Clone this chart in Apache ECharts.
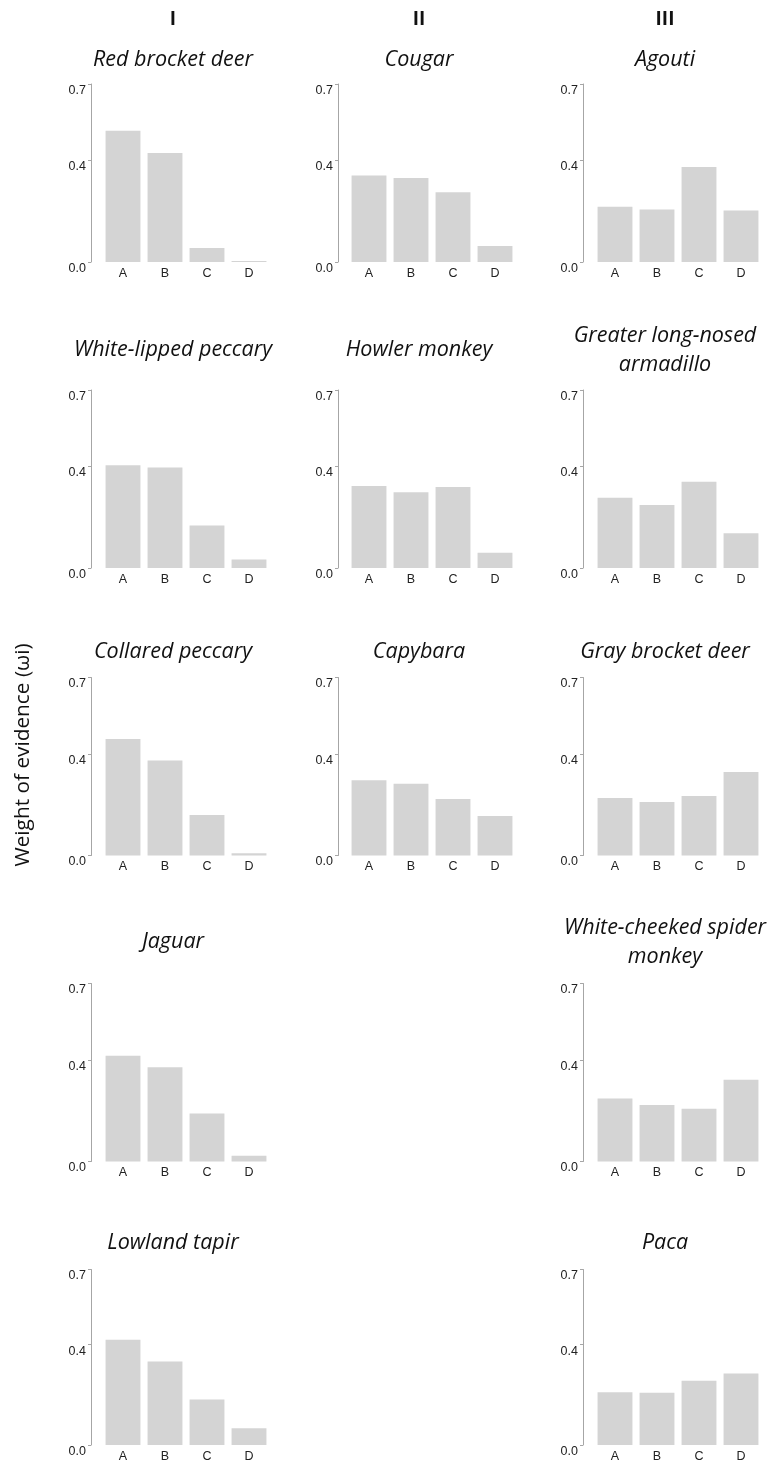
<!DOCTYPE html>
<html><head><meta charset="utf-8">
<script src="https://cdn.jsdelivr.net/npm/echarts@6/dist/echarts.min.js"></script>
<style>html,body{margin:0;padding:0;background:#fff}#c{width:773px;height:1463px}</style>
</head><body><div id="c"></div>
<script>
const categories = ['A', 'B', 'C', 'D'];
const yTicks = [0, 0.4, 0.7];
const columnHeaders = ['I', 'II', 'III'];
const yAxisTitle = 'Weight of evidence (ωi)';

const redBrocketDeer = [0.516, 0.429, 0.055, 0.004];
const cougar = [0.340, 0.330, 0.274, 0.063];
const agouti = [0.217, 0.206, 0.374, 0.203];
const whiteLippedPeccary = [0.404, 0.395, 0.167, 0.033];
const howlerMonkey = [0.322, 0.298, 0.319, 0.060];
const armadillo = [0.276, 0.248, 0.339, 0.137];
const collaredPeccary = [0.458, 0.374, 0.159, 0.009];
const capybara = [0.296, 0.282, 0.222, 0.155];
const grayBrocketDeer = [0.226, 0.210, 0.234, 0.328];
const jaguar = [0.416, 0.371, 0.189, 0.023];
const spiderMonkey = [0.248, 0.222, 0.207, 0.321];
const lowlandTapir = [0.420, 0.333, 0.181, 0.067];
const paca = [0.210, 0.208, 0.256, 0.285];

const panels = [
  { name: 'Red brocket deer', values: redBrocketDeer, col: 0, row: 0 },
  { name: 'Cougar', values: cougar, col: 1, row: 0 },
  { name: 'Agouti', values: agouti, col: 2, row: 0 },
  { name: 'White-lipped peccary', values: whiteLippedPeccary, col: 0, row: 1 },
  { name: 'Howler monkey', values: howlerMonkey, col: 1, row: 1 },
  { name: 'Greater long-nosed\narmadillo', values: armadillo, col: 2, row: 1 },
  { name: 'Collared peccary', values: collaredPeccary, col: 0, row: 2 },
  { name: 'Capybara', values: capybara, col: 1, row: 2 },
  { name: 'Gray brocket deer', values: grayBrocketDeer, col: 2, row: 2 },
  { name: 'Jaguar', values: jaguar, col: 0, row: 3 },
  { name: 'White-cheeked spider\nmonkey', values: spiderMonkey, col: 2, row: 3 },
  { name: 'Lowland tapir', values: lowlandTapir, col: 0, row: 4 },
  { name: 'Paca', values: paca, col: 2, row: 4 }
];

// layout (pixels)
const colAxisX = [91, 338, 583];
const colGridLeft = [102, 348, 594];
const gridWidth = 168;
const rowTop = [84, 390, 677.5, 983.5, 1269.5];
const gridHeight = 178;
const titleX = [173, 419, 665];
const titleY = [60, 350, 652, 942, 1243];
const headerY = 20;

const grid = [], xAxis = [], yAxis = [], series = [], graphic = [];
const axisColor = '#a6a6a6';

panels.forEach((p, i) => {
  grid.push({ left: colGridLeft[p.col], top: rowTop[p.row], width: gridWidth, height: gridHeight });
  xAxis.push({
    gridIndex: i, type: 'category', data: categories,
    axisLine: { show: false }, axisTick: { show: false },
    axisLabel: { color: '#222', fontSize: 12.5, margin: 5, fontFamily: 'Liberation Sans' }
  });
  yAxis.push({
    gridIndex: i, type: 'value', min: 0, max: 0.7,
    offset: colGridLeft[p.col] - colAxisX[p.col],
    splitLine: { show: false },
    axisLine: { show: true, lineStyle: { color: axisColor, width: 1 } },
    axisTick: { show: true, length: 3, customValues: yTicks, lineStyle: { color: axisColor } },
    axisLabel: {
      customValues: yTicks, formatter: v => v.toFixed(1), margin: 5,
      verticalAlign: 'top', color: '#222', fontSize: 12.5, fontFamily: 'Liberation Sans'
    }
  });
  series.push({
    type: 'bar', xAxisIndex: i, yAxisIndex: i, data: p.values,
    barCategoryGap: '17%', itemStyle: { color: '#d4d4d4' }, silent: true
  });
  graphic.push({
    type: 'text', x: titleX[p.col], y: titleY[p.row],
    style: {
      text: p.name, align: 'center', verticalAlign: 'middle',
      fontSize: 21.5, fontStyle: 'italic', fontFamily: 'Open Sans', fill: '#111', lineHeight: 29
    }
  });
});

columnHeaders.forEach((h, c) => {
  graphic.push({
    type: 'text', x: titleX[c], y: headerY,
    style: { text: h, align: 'center', verticalAlign: 'middle', fontSize: 19, fontWeight: 'bold', fontFamily: 'Open Sans', fill: '#111' }
  });
});

graphic.push({
  type: 'text', x: 23, y: 755, rotation: Math.PI / 2,
  style: { text: yAxisTitle, align: 'center', verticalAlign: 'middle', fontSize: 20.8, fontFamily: 'Open Sans', fill: '#111' }
});

const chart = echarts.init(document.getElementById('c'), null, { renderer: 'canvas' });
chart.setOption({ animation: false, grid, xAxis, yAxis, series, graphic });
</script>
</body></html>
